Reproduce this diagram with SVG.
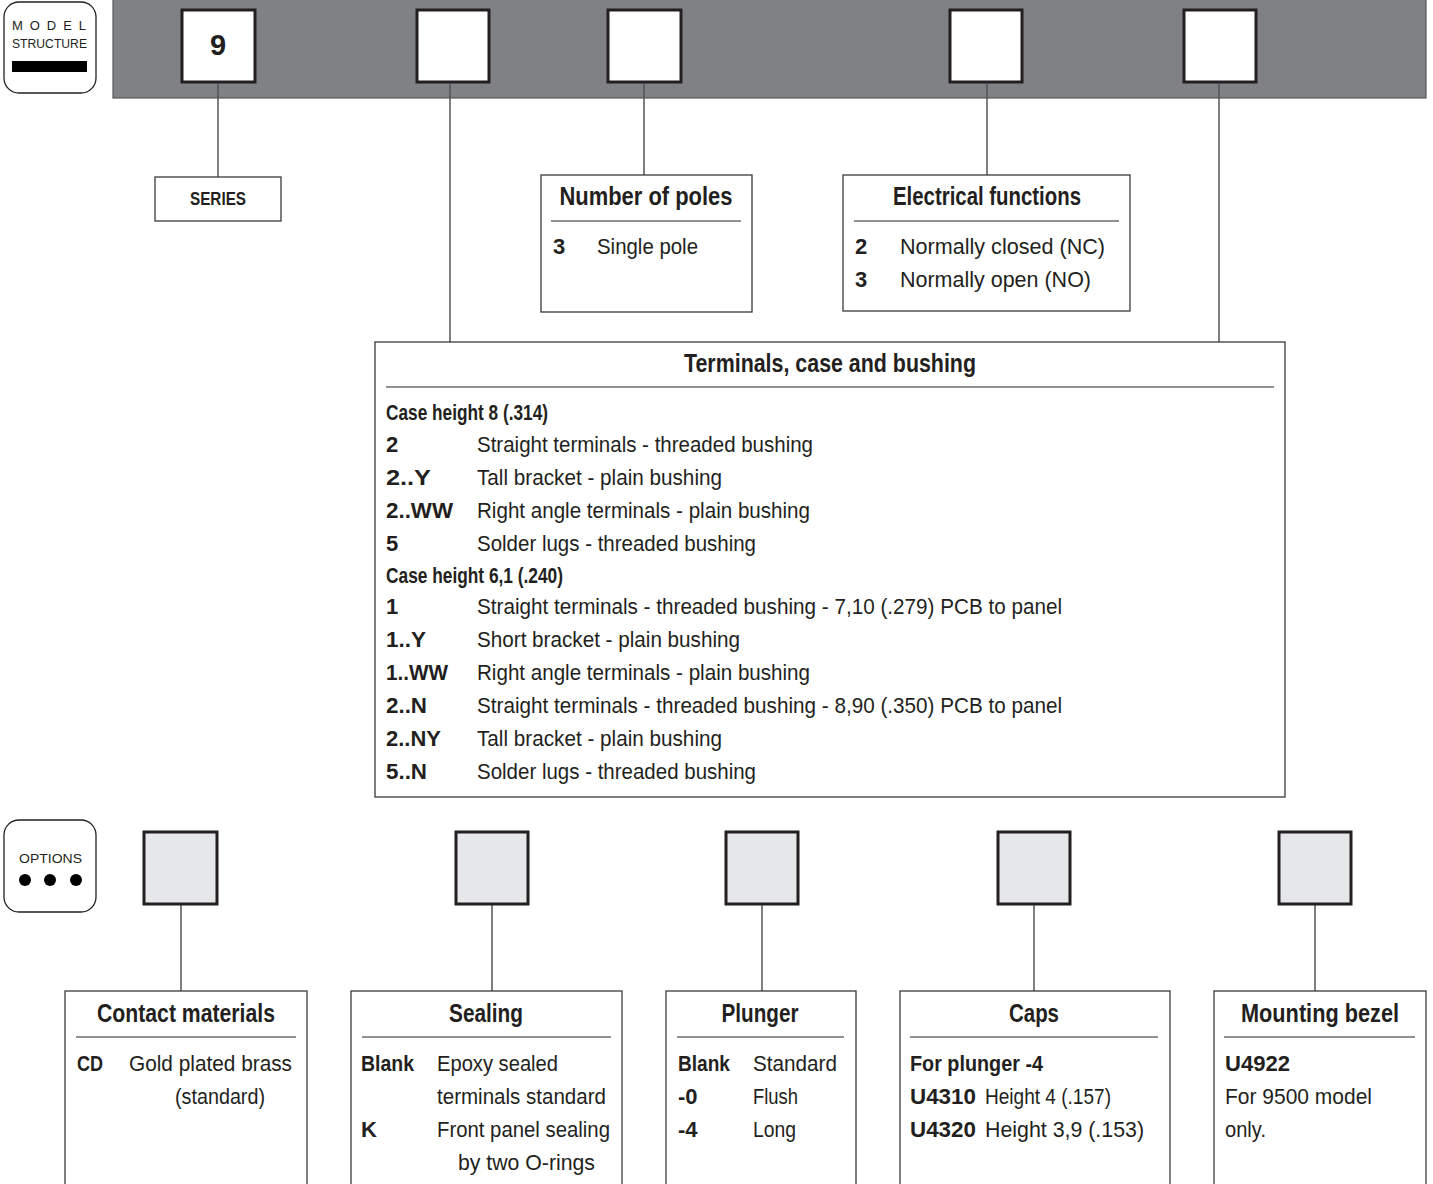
<svg xmlns="http://www.w3.org/2000/svg" width="1433" height="1184" viewBox="0 0 1433 1184">
<style>
text{font-family:"Liberation Sans",Arial,sans-serif;fill:#231f20}
.t{font-size:25px;font-weight:bold;text-anchor:middle}
.b{font-size:22px}
.k{font-size:22px;font-weight:bold}
.box{fill:#fff;stroke:#3a3a3a;stroke-width:1.3}
.sel{fill:#fff;stroke:#231f20;stroke-width:3}
.opt{fill:#e6e7e8;stroke:#231f20;stroke-width:3}
.div{stroke:#6d6e70;stroke-width:1.5}
.con line{stroke:#555;stroke-width:1.5}
.badge{fill:#fff;stroke:#231f20;stroke-width:1.3}
.bt{font-family:"Liberation Sans",Arial,sans-serif;font-size:12px}
</style>

<g id="model-structure-badge">
<rect class="badge" x="4" y="2" width="92" height="91" rx="15"/>
<text class="bt" x="12" y="30" textLength="74" lengthAdjust="spacing" style="font-size:13px">MODEL</text>
<text class="bt" x="12" y="48" textLength="75" lengthAdjust="spacingAndGlyphs">STRUCTURE</text>
<rect x="12" y="61" width="75" height="11" fill="#000"/>
</g>

<g id="code-bar">
<rect x="113" y="-2" width="1313" height="100" fill="#808184" stroke="#58595b" stroke-width="1.2"/>
</g>
<g id="sel-series"><rect class="sel" x="182" y="10" width="73" height="72"/><text x="218" y="55" style="font-size:29px;font-weight:bold;text-anchor:middle">9</text></g>
<g id="sel-terminals"><rect class="sel" x="417" y="10" width="72" height="72"/></g>
<g id="sel-poles"><rect class="sel" x="608" y="10" width="73" height="72"/></g>
<g id="sel-functions"><rect class="sel" x="950" y="10" width="72" height="72"/></g>
<g id="sel-terminals2"><rect class="sel" x="1184" y="10" width="72" height="72"/></g>

<g id="connectors" class="con">
<line x1="218" y1="83" x2="218" y2="177"/>
<line x1="450" y1="83" x2="450" y2="342"/>
<line x1="644" y1="83" x2="644" y2="175"/>
<line x1="987" y1="83" x2="987" y2="175"/>
<line x1="1219" y1="83" x2="1219" y2="342"/>
<line x1="181" y1="905" x2="181" y2="991"/>
<line x1="492" y1="905" x2="492" y2="991"/>
<line x1="762" y1="905" x2="762" y2="991"/>
<line x1="1034" y1="905" x2="1034" y2="991"/>
<line x1="1315" y1="905" x2="1315" y2="991"/>
</g>

<g id="series">
<rect class="box" x="155" y="177" width="126" height="44"/>
<text x="218" y="205" textLength="56" lengthAdjust="spacingAndGlyphs" style="font-size:18px;font-weight:bold;text-anchor:middle">SERIES</text>
</g>

<g id="number-of-poles">
<rect class="box" x="541" y="175" width="211" height="137"/>
<text class="t" x="646" y="205" textLength="173" lengthAdjust="spacingAndGlyphs">Number of poles</text>
<line class="div" x1="551" y1="221" x2="741" y2="221"/>
<text class="k" x="553" y="254">3</text><text class="b" x="597" y="254" textLength="101" lengthAdjust="spacingAndGlyphs">Single pole</text>
</g>

<g id="electrical-functions">
<rect class="box" x="843" y="175" width="287" height="136"/>
<text class="t" x="987" y="205" textLength="188" lengthAdjust="spacingAndGlyphs">Electrical functions</text>
<line class="div" x1="854" y1="221" x2="1119" y2="221"/>
<text class="k" x="855" y="254">2</text><text class="b" x="900" y="254" textLength="205" lengthAdjust="spacingAndGlyphs">Normally closed  (NC)</text>
<text class="k" x="855" y="287">3</text><text class="b" x="900" y="287" textLength="191" lengthAdjust="spacingAndGlyphs">Normally open (NO)</text>
</g>

<g id="terminals-case-bushing">
<rect class="box" x="375" y="342" width="910" height="455"/>
<text class="t" x="830" y="372" textLength="292" lengthAdjust="spacingAndGlyphs">Terminals, case and bushing</text>
<line class="div" x1="386" y1="387" x2="1274" y2="387"/>
<text class="k" x="386" y="420" textLength="162" lengthAdjust="spacingAndGlyphs">Case height 8 (.314)</text>
<text class="k" x="386" y="452">2</text><text class="b" x="477" y="452" textLength="336" lengthAdjust="spacingAndGlyphs">Straight terminals - threaded bushing</text>
<text class="k" x="386" y="485" textLength="45" lengthAdjust="spacingAndGlyphs">2..Y</text><text class="b" x="477" y="485" textLength="245" lengthAdjust="spacingAndGlyphs">Tall bracket - plain bushing</text>
<text class="k" x="386" y="518" textLength="67" lengthAdjust="spacingAndGlyphs">2..WW</text><text class="b" x="477" y="518" textLength="333" lengthAdjust="spacingAndGlyphs">Right angle terminals - plain bushing</text>
<text class="k" x="386" y="551">5</text><text class="b" x="477" y="551" textLength="279" lengthAdjust="spacingAndGlyphs">Solder lugs - threaded bushing</text>
<text class="k" x="386" y="583" textLength="177" lengthAdjust="spacingAndGlyphs">Case height 6,1 (.240)</text>
<text class="k" x="386" y="614">1</text><text class="b" x="477" y="614" textLength="585" lengthAdjust="spacingAndGlyphs">Straight terminals - threaded bushing - 7,10 (.279) PCB to panel</text>
<text class="k" x="386" y="647" textLength="40" lengthAdjust="spacingAndGlyphs">1..Y</text><text class="b" x="477" y="647" textLength="263" lengthAdjust="spacingAndGlyphs">Short bracket - plain bushing</text>
<text class="k" x="386" y="680" textLength="62" lengthAdjust="spacingAndGlyphs">1..WW</text><text class="b" x="477" y="680" textLength="333" lengthAdjust="spacingAndGlyphs">Right angle terminals - plain bushing</text>
<text class="k" x="386" y="713" textLength="41" lengthAdjust="spacingAndGlyphs">2..N</text><text class="b" x="477" y="713" textLength="585" lengthAdjust="spacingAndGlyphs">Straight terminals - threaded bushing - 8,90 (.350) PCB to panel</text>
<text class="k" x="386" y="746" textLength="55" lengthAdjust="spacingAndGlyphs">2..NY</text><text class="b" x="477" y="746" textLength="245" lengthAdjust="spacingAndGlyphs">Tall bracket - plain bushing</text>
<text class="k" x="386" y="779" textLength="41" lengthAdjust="spacingAndGlyphs">5..N</text><text class="b" x="477" y="779" textLength="279" lengthAdjust="spacingAndGlyphs">Solder lugs - threaded bushing</text>
</g>

<g id="options-badge">
<rect class="badge" x="4" y="820" width="92" height="92" rx="15"/>
<text class="bt" x="19" y="863" textLength="63" lengthAdjust="spacingAndGlyphs" style="font-size:13px">OPTIONS</text>
<circle cx="25" cy="880" r="6" fill="#000"/><circle cx="50" cy="880" r="6" fill="#000"/><circle cx="76" cy="880" r="6" fill="#000"/>
</g>

<g id="opt-contact"><rect class="opt" x="144" y="832" width="73" height="72"/></g>
<g id="opt-sealing"><rect class="opt" x="456" y="832" width="72" height="72"/></g>
<g id="opt-plunger"><rect class="opt" x="726" y="832" width="72" height="72"/></g>
<g id="opt-caps"><rect class="opt" x="998" y="832" width="72" height="72"/></g>
<g id="opt-bezel"><rect class="opt" x="1279" y="832" width="72" height="72"/></g>

<g id="contact-materials">
<rect class="box" x="65" y="991" width="242" height="200"/>
<text class="t" x="186" y="1022" textLength="178" lengthAdjust="spacingAndGlyphs">Contact materials</text>
<line class="div" x1="76" y1="1037" x2="296" y2="1037"/>
<text class="k" x="77" y="1071" textLength="26" lengthAdjust="spacingAndGlyphs">CD</text><text class="b" x="129" y="1071" textLength="163" lengthAdjust="spacingAndGlyphs">Gold plated brass</text>
<text class="b" x="175" y="1104" textLength="90" lengthAdjust="spacingAndGlyphs">(standard)</text>
</g>

<g id="sealing">
<rect class="box" x="351" y="991" width="271" height="200"/>
<text class="t" x="486" y="1022" textLength="74" lengthAdjust="spacingAndGlyphs">Sealing</text>
<line class="div" x1="362" y1="1037" x2="611" y2="1037"/>
<text class="k" x="361" y="1071" textLength="53" lengthAdjust="spacingAndGlyphs">Blank</text><text class="b" x="437" y="1071" textLength="121" lengthAdjust="spacingAndGlyphs">Epoxy sealed</text>
<text class="b" x="437" y="1104" textLength="169" lengthAdjust="spacingAndGlyphs">terminals standard</text>
<text class="k" x="361" y="1137">K</text><text class="b" x="437" y="1137" textLength="173" lengthAdjust="spacingAndGlyphs">Front panel sealing</text>
<text class="b" x="458" y="1170" textLength="137" lengthAdjust="spacingAndGlyphs">by two O-rings</text>
</g>

<g id="plunger">
<rect class="box" x="666" y="991" width="190" height="200"/>
<text class="t" x="760" y="1022" textLength="77" lengthAdjust="spacingAndGlyphs">Plunger</text>
<line class="div" x1="677" y1="1037" x2="844" y2="1037"/>
<text class="k" x="678" y="1071" textLength="52" lengthAdjust="spacingAndGlyphs">Blank</text><text class="b" x="753" y="1071" textLength="84" lengthAdjust="spacingAndGlyphs">Standard</text>
<text class="k" x="678" y="1104">-0</text><text class="b" x="753" y="1104" textLength="45" lengthAdjust="spacingAndGlyphs">Flush</text>
<text class="k" x="678" y="1137">-4</text><text class="b" x="753" y="1137" textLength="43" lengthAdjust="spacingAndGlyphs">Long</text>
</g>

<g id="caps">
<rect class="box" x="900" y="991" width="270" height="200"/>
<text class="t" x="1034" y="1022" textLength="50" lengthAdjust="spacingAndGlyphs">Caps</text>
<line class="div" x1="910" y1="1037" x2="1158" y2="1037"/>
<text class="k" x="910" y="1071" textLength="133" lengthAdjust="spacingAndGlyphs">For plunger -4</text>
<text class="k" x="910" y="1104" textLength="66" lengthAdjust="spacingAndGlyphs">U4310</text><text class="b" x="985" y="1104" textLength="126" lengthAdjust="spacingAndGlyphs">Height 4 (.157)</text>
<text class="k" x="910" y="1137" textLength="66" lengthAdjust="spacingAndGlyphs">U4320</text><text class="b" x="985" y="1137" textLength="159" lengthAdjust="spacingAndGlyphs">Height 3,9 (.153)</text>
</g>

<g id="mounting-bezel">
<rect class="box" x="1214" y="991" width="212" height="200"/>
<text class="t" x="1320" y="1022" textLength="158" lengthAdjust="spacingAndGlyphs">Mounting bezel</text>
<line class="div" x1="1224" y1="1037" x2="1415" y2="1037"/>
<text class="k" x="1225" y="1071" textLength="65" lengthAdjust="spacingAndGlyphs">U4922</text>
<text class="b" x="1225" y="1104" textLength="147" lengthAdjust="spacingAndGlyphs">For 9500 model</text>
<text class="b" x="1225" y="1137" textLength="41" lengthAdjust="spacingAndGlyphs">only.</text>
</g>
</svg>
